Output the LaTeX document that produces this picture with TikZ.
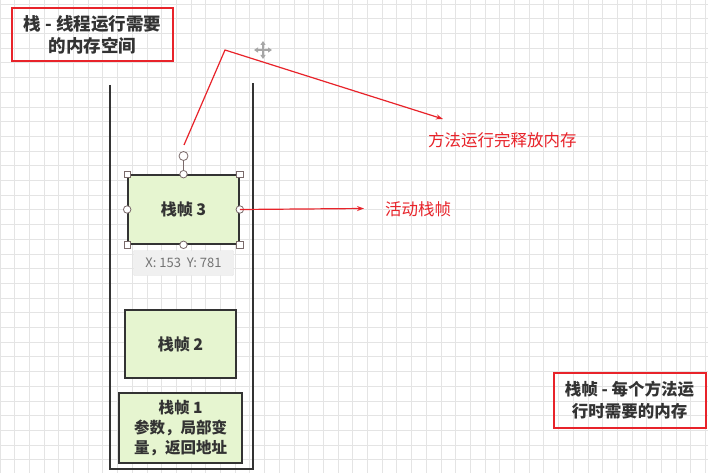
\documentclass[tikz,border=0pt]{standalone}
\usepackage{fontspec}
\setmainfont{Noto Sans CJK SC}
\usetikzlibrary{arrows.meta}
\definecolor{gridc}{HTML}{E4E4E4}
\definecolor{framegreen}{HTML}{E6F5D0}
\definecolor{txtdark}{HTML}{333333}
\definecolor{redc}{HTML}{E8232A}
\definecolor{handlec}{HTML}{7A6A6A}
\tikzset{
  frame/.style={draw=txtdark, line width=1.6pt, fill=framegreen, inner sep=0pt, font=\fontsize{16}{20}\selectfont\bfseries, text=txtdark, align=center},
  notebox/.style={draw=redc, line width=2pt, inner sep=0pt, font=\fontsize{17}{22}\selectfont\bfseries, text=txtdark, align=center},
  redlabel/.style={text=redc, font=\fontsize{16.5}{18}\selectfont, anchor=west, inner sep=0pt},
  redarrow/.style={draw=redc, line width=1.2pt, -{Stealth[length=7pt,width=5pt]}},
  cornerh/.style={draw=handlec, fill=white, line width=0.8pt, minimum size=6.5pt, inner sep=0pt, rectangle},
  midh/.style={draw=handlec, fill=white, line width=0.8pt, minimum size=7.5pt, inner sep=0pt, circle},
  wall/.style={draw=txtdark, line width=2pt}
}
\begin{document}
\begin{tikzpicture}[x=1pt,y=-1pt]
\useasboundingbox (0,0) rectangle (708,473);
\fill[white] (0,0) rectangle (708,473);
% grid
\foreach \i in {0,...,48} {\draw[gridc, line width=0.9pt] (\i*14.7,0) -- (\i*14.7,473);}
\foreach \j in {0,...,32} {\draw[gridc, line width=0.9pt] (0,4.1+\j*14.7) -- (708,4.1+\j*14.7);}

% stack container
\coordinate (wl) at (110,85);
\coordinate (wr) at (253,83);
\draw[wall] (wl) -- (110,469) -- (253,469) -- (wr);

% frames
\node[frame, minimum width=111pt, minimum height=69pt] (f3) at (183.5,209.5) {栈帧 3};
\node[frame, minimum width=111pt, minimum height=68pt] (f2) at (180.5,344) {栈帧 2};
\node[frame, minimum width=123pt, minimum height=70pt, font=\fontsize{15.5}{20}\selectfont\bfseries] (f1) at (180.5,428) {栈帧 1\\参数，局部变\\量，返回地址};

% tooltip
\node[fill=gray!12, draw=gray!20, rounded corners=1pt, minimum width=100pt, minimum height=25pt, text=gray!90!black, font=\fontsize{13}{15}\selectfont] (tip) at (183.5,263) {X: 153~~Y: 781};

% selection handles
\node[midh, minimum size=9pt] (rot) at (183.5,156) {};
\draw[handlec, line width=0.8pt] (rot) -- (f3.north);
\foreach \a in {north west, north east, south west, south east} {\node[cornerh] at (f3.\a) {};}
\foreach \a in {north, south, west, east} {\node[midh] at (f3.\a) {};}

% notes
\node[notebox, minimum width=161pt, minimum height=53pt, font=\fontsize{17.5}{22}\selectfont\bfseries] (n1) at (92.5,35) {栈 - 线程运行需要\\的内存空间};
\node[notebox, minimum width=152pt, minimum height=55pt, font=\fontsize{16.5}{22}\selectfont\bfseries] (n2) at (629.5,400.5) {栈帧 - 每个方法运\\行时需要的内存};

% red arrows and labels
\coordinate (s1) at (184,145);
\coordinate (apex) at (225,50);
\coordinate (e1) at (443,119);
\draw[redarrow] (s1) -- (apex) -- (e1);
\node[redlabel] (l1) at (428,140) {方法运行完释放内存};

\coordinate (e2) at (364,208.5);
\draw[redarrow] (f3.east) -- (e2);
\node[redlabel] (l2) at (385,209) {活动栈帧};

% move cursor
\begin{scope}[shift={(263,50)}]
\draw[gray!70, line width=1.6pt, {Triangle[length=4pt,width=5pt]}-{Triangle[length=4pt,width=5pt]}] (-9,0) -- (9,0);
\draw[gray!70, line width=1.6pt, {Triangle[length=4pt,width=5pt]}-{Triangle[length=4pt,width=5pt]}] (0,-9) -- (0,9);
\end{scope}
\end{tikzpicture}
\end{document}
